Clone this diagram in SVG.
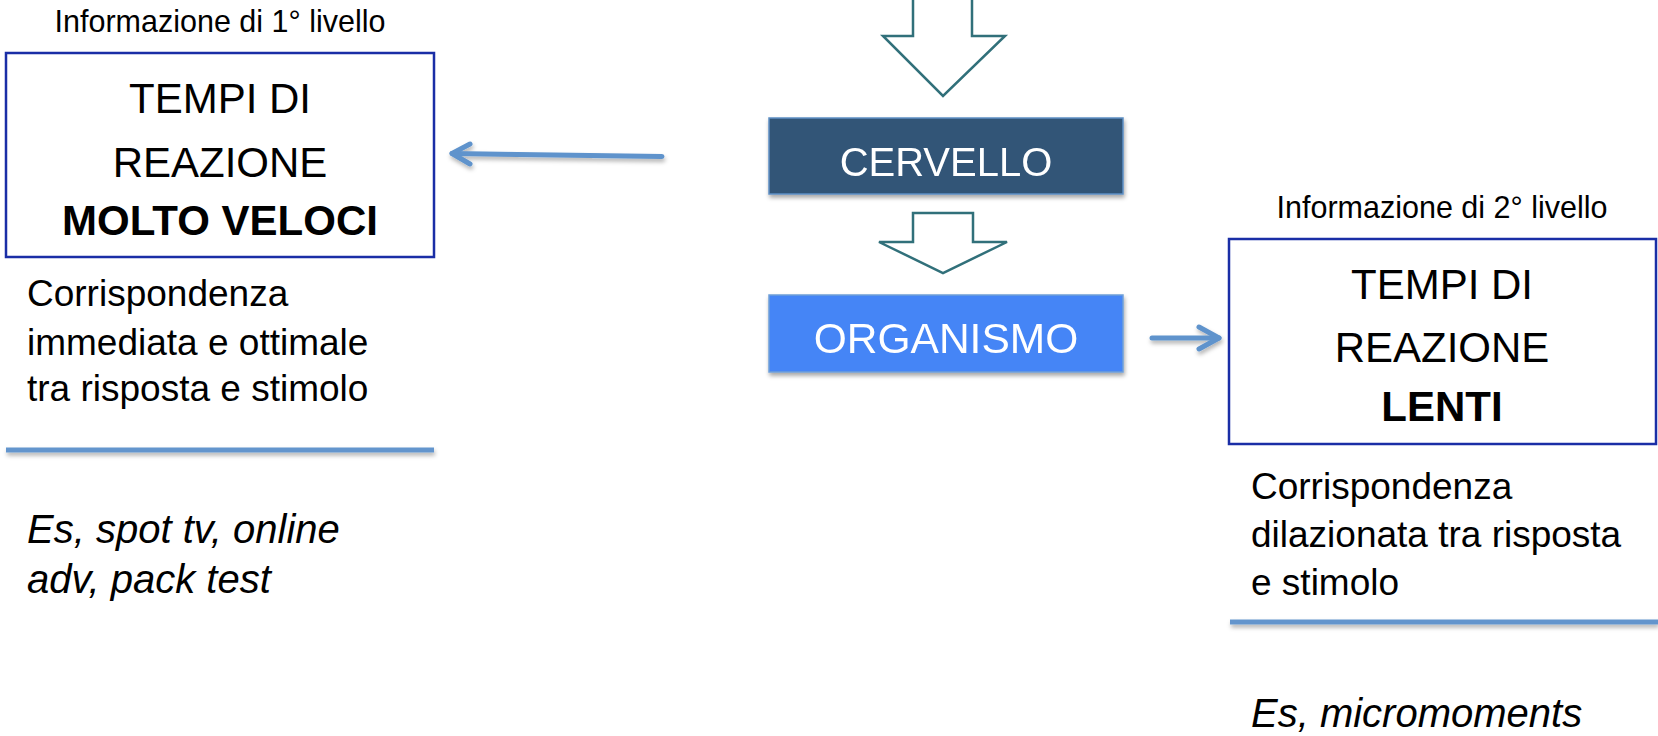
<svg xmlns="http://www.w3.org/2000/svg" width="1658" height="736" viewBox="0 0 1658 736">
<style>
.lbl{font-family:"Liberation Sans",Arial,sans-serif;font-size:30.5px;fill:#000;text-anchor:middle}
.big{font-family:"Liberation Sans",Arial,sans-serif;font-size:42px;fill:#000;text-anchor:middle}
.bold{font-weight:bold}
.body{font-family:"Liberation Sans",Arial,sans-serif;font-size:37px;fill:#000}
.ital{font-family:"Liberation Sans",Arial,sans-serif;font-size:40px;font-style:italic;fill:#000}
.wt{font-family:"Liberation Sans",Arial,sans-serif;fill:#fff;text-anchor:middle}
.frame{fill:#fff;stroke:#1a2ea6;stroke-width:2.5}
.hollow{fill:#fff;stroke:#31707a;stroke-width:2.5;stroke-linejoin:miter}
.conn{stroke:#5f93cc;stroke-width:5;fill:none;stroke-linecap:round;stroke-linejoin:round}
.rule{fill:#6495cd}
</style>
<defs>
<filter id="sh" x="-10%" y="-30%" width="120%" height="180%">
<feDropShadow dx="1" dy="3" stdDeviation="2" flood-color="#000" flood-opacity="0.35"/>
</filter>
<filter id="shl" filterUnits="userSpaceOnUse" x="0" y="0" width="1658" height="736">
<feDropShadow dx="1" dy="3" stdDeviation="2" flood-color="#000" flood-opacity="0.3"/>
</filter>
</defs>

<g id="top-arrow">
<polygon class="hollow" points="913,-5 972,-5 972,36 1005,36 943,96 883,36 913,36"/>
</g>

<g id="cervello" filter="url(#sh)">
<rect x="769" y="118" width="354" height="76" fill="#315477" stroke="#5d8fc4" stroke-width="1.5"/>
<text class="wt" x="946" y="176" font-size="40">CERVELLO</text>
</g>

<g id="mid-arrow">
<polygon class="hollow" points="913,213 973,213 973,242 1007,242 943,273 879,242 913,242"/>
</g>

<g id="organismo" filter="url(#sh)">
<rect x="769" y="295" width="354" height="77" fill="#4585f6" stroke="#6f9fd8" stroke-width="1.5"/>
<text class="wt" x="946" y="353" font-size="42.5">ORGANISMO</text>
</g>

<g id="level1">
<text class="lbl" x="220" y="32">Informazione di 1° livello</text>
<rect class="frame" x="6" y="53" width="428" height="204"/>
<text class="big" x="220" y="113">TEMPI DI</text>
<text class="big" x="220" y="177">REAZIONE</text>
<text class="big bold" x="220" y="235">MOLTO VELOCI</text>
<text class="body" x="27" y="306">Corrispondenza</text>
<text class="body" x="27" y="355">immediata e ottimale</text>
<text class="body" x="27" y="401">tra risposta e stimolo</text>
<rect class="rule" x="6" y="447.5" width="428" height="5" filter="url(#shl)"/>
<text class="ital" x="27" y="543">Es, spot tv, online</text>
<text class="ital" x="27" y="593">adv, pack test</text>
</g>

<g id="level2">
<text class="lbl" x="1442" y="218">Informazione di 2° livello</text>
<rect class="frame" x="1229" y="239" width="427" height="205"/>
<text class="big" x="1442" y="299">TEMPI DI</text>
<text class="big" x="1442" y="362">REAZIONE</text>
<text class="big bold" x="1442" y="421">LENTI</text>
<text class="body" x="1251" y="499">Corrispondenza</text>
<text class="body" x="1251" y="547">dilazionata tra risposta</text>
<text class="body" x="1251" y="595">e stimolo</text>
<rect class="rule" x="1230" y="619.5" width="428" height="5" filter="url(#shl)"/>
<text class="ital" x="1251" y="727">Es, micromoments</text>
</g>

<g id="connectors" filter="url(#shl)">
<path class="conn" d="M662,156.5 L452,153.5"/>
<path class="conn" d="M470,144 L452,153.5 L470,164"/>
<path class="conn" d="M1152,338 L1219,338"/>
<path class="conn" d="M1199,327 L1219,338 L1199,349"/>
</g>
</svg>
